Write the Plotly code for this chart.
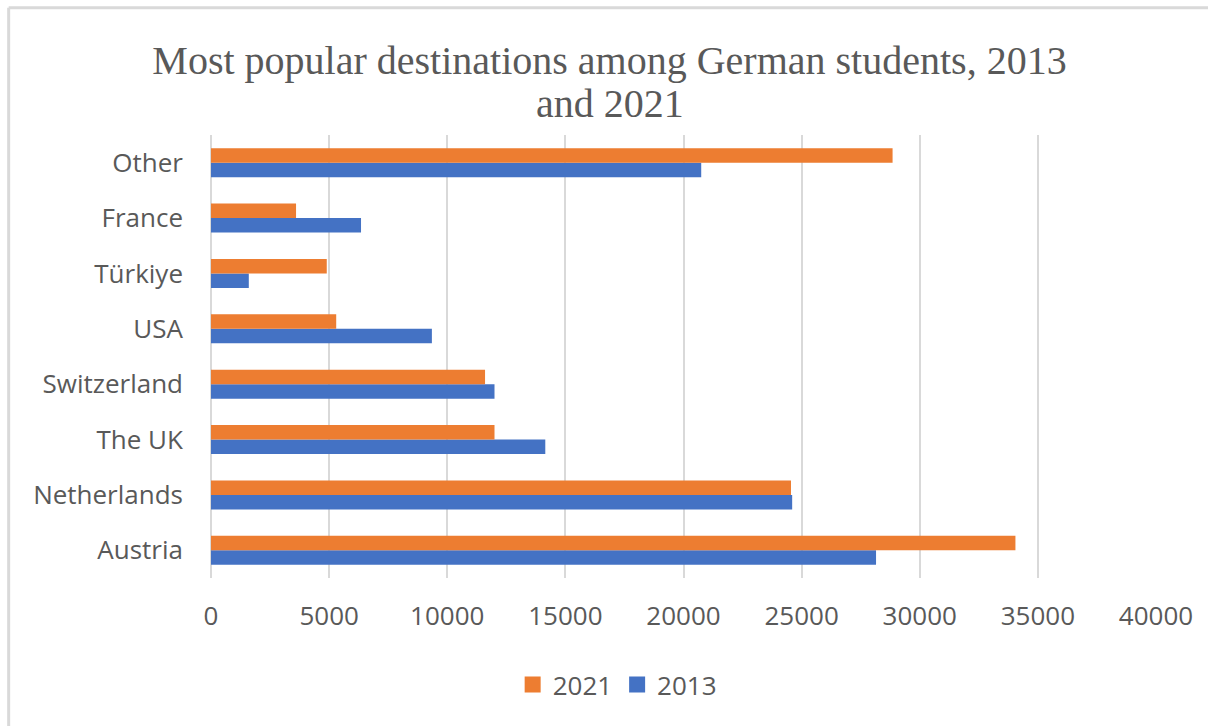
import plotly.graph_objects as go

# Destinations, listed bottom to top as drawn on the category axis
countries = ["Austria", "Netherlands", "The UK", "Switzerland", "USA", "Türkiye", "France", "Other"]
students_2013 = [28150, 24600, 14150, 12000, 9350, 1600, 6350, 20750]
students_2021 = [34050, 24550, 12000, 11600, 5300, 4900, 3600, 28850]
x_ticks = [0, 5000, 10000, 15000, 20000, 25000, 30000, 35000, 40000]

BLUE = "#4472C4"
ORANGE = "#ED7D31"
TEXT = "#595959"
GRID = "#D9D9D9"

W, H = 1208, 726
L, R, T, B = 210.5, 51.7, 135.4, 148.4
pw, ph = W - L - R, H - T - B
FS = 26


def px_x(v):
    return (v - L) / pw


def px_y(v):
    return (H - B - v) / ph


fig = go.Figure()
fig.add_trace(go.Bar(y=countries, x=students_2013, name="2013", orientation="h",
                     marker=dict(color=BLUE, line=dict(width=0)), showlegend=False))
fig.add_trace(go.Bar(y=countries, x=students_2021, name="2021", orientation="h",
                     marker=dict(color=ORANGE, line=dict(width=0)), showlegend=False))

# Legend entries with square swatches
for name, color in [("2013", BLUE), ("2021", ORANGE)]:
    fig.add_trace(go.Scatter(x=[None], y=[None], mode="markers", name=name,
                             marker=dict(symbol="square", size=17, color=color)))

title_font = dict(family="Liberation Serif", size=40, color=TEXT)

fig.update_layout(
    width=W, height=H,
    margin=dict(l=L, r=R, t=T, b=B, autoexpand=False),
    paper_bgcolor="white", plot_bgcolor="white",
    barmode="group", bargap=0.475, bargroupgap=0,
    title=dict(
        text="Most popular destinations among German students, 2013",
        font=title_font,
        x=609.5 / W, xanchor="center", xref="container",
        y=1 - 60 / H, yanchor="middle", yref="container",
    ),
    annotations=[dict(text="and 2021", font=title_font, showarrow=False,
                      xref="paper", yref="paper", x=px_x(609.5), y=px_y(104),
                      xanchor="center", yanchor="middle")],
    font=dict(family="Open Sans", size=FS, color=TEXT),
    xaxis=dict(range=[0, 40000], tickvals=x_ticks, ticktext=[str(v) for v in x_ticks],
               showgrid=True, gridcolor=GRID, gridwidth=2, zeroline=True,
               zerolinecolor=GRID, zerolinewidth=2, showline=False, ticks="",
               ticklabelstandoff=20, tickfont=dict(size=FS, color=TEXT)),
    yaxis=dict(showgrid=False, showline=False, ticks="", ticklabelstandoff=27,
               tickfont=dict(size=FS, color=TEXT)),
    legend=dict(orientation="h", x=px_x(617), xanchor="center", y=px_y(684),
                yanchor="middle", traceorder="reversed",
                font=dict(size=FS, color=TEXT), itemwidth=30),
    shapes=[
        dict(type="line", xref="paper", yref="paper", x0=px_x(8), x1=px_x(1210),
             y0=px_y(8.5), y1=px_y(8.5), line=dict(color=GRID, width=3)),
        dict(type="line", xref="paper", yref="paper", x0=px_x(8), x1=px_x(8),
             y0=px_y(8.5), y1=px_y(730), line=dict(color=GRID, width=3)),
    ],
)

fig.write_html("out.html")
